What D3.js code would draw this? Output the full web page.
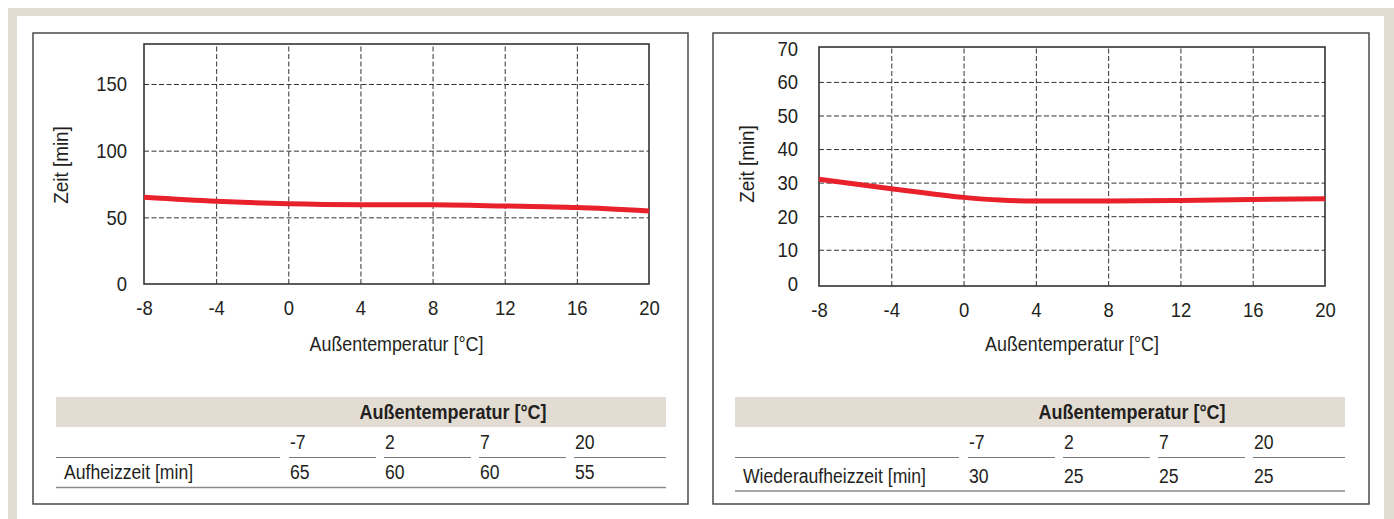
<!DOCTYPE html>
<html>
<head>
<meta charset="utf-8">
<script src="https://cdn.jsdelivr.net/npm/d3@7"></script>
<style>
  html, body { margin: 0; padding: 0; background: #fff; }
  svg { display: block; }
  text { font-family: "Liberation Sans Narrow", "Arial Narrow", "Liberation Sans", Arial, sans-serif; fill: #231f20; }
</style>
</head>
<body>
<svg id="chart" width="1394" height="519"></svg>
<script>
// ---------- data ----------
const xTicks = [-8, -4, 0, 4, 8, 12, 16, 20];
const leftYTicks = [0, 50, 100, 150];
const rightYTicks = [0, 10, 20, 30, 40, 50, 60, 70];

const leftTemps  = [-8, -4, 0, 4, 8, 12, 16, 20];
const leftValues = [65, 62, 60.2, 59.5, 59.4, 58.5, 57.3, 54.8];

const rightTemps  = [-8, -4, 0, 2, 4, 8, 12, 16, 20];
const rightValues = [31, 28.2, 25.6, 24.8, 24.5, 24.5, 24.7, 25, 25.2];

const tableTemps = ["-7", "2", "7", "20"];
const leftTableLabel = "Aufheizzeit [min]";
const leftTableValues = ["65", "60", "60", "55"];
const rightTableLabel = "Wiederaufheizzeit [min]";
const rightTableValues = ["30", "25", "25", "25"];

const xTitle = "Außentemperatur [°C]";
const yTitle = "Zeit [min]";
const tableHeader = "Außentemperatur [°C]";

// ---------- helpers ----------
// simulate a condensed face when no narrow font is installed
function condense(sel, k) {
  sel.each(function () {
    const n = this.getComputedTextLength();
    if (n > 0) {
      d3.select(this).attr("textLength", n * k).attr("lengthAdjust", "spacingAndGlyphs");
    }
  });
}

// ---------- layout ----------
const BEIGE = "#e2dcd3";
const RED = "#e8212b";
const svg = d3.select("#chart");

svg.append("rect").attr("x", 8).attr("y", 8).attr("width", 1386).attr("height", 511).attr("fill", BEIGE);
svg.append("rect").attr("x", 17).attr("y", 16).attr("width", 1367).attr("height", 503).attr("fill", "#fff");

const panels = [
  { box: {x: 33, y: 33, w: 655, h: 471}, plot: {x: 144, y: 44, w: 505, h: 240},
    yDomain: [0, 180], yTicks: leftYTicks, tickPad: 17, yTitleX: 68, yTitleY: 165,
    temps: leftTemps, values: leftValues,
    table: {x: 56, w: 610, label: leftTableLabel, values: leftTableValues, row2Base: 479, row2Line: 487.5} },
  { box: {x: 713, y: 33, w: 656, h: 471}, plot: {x: 819, y: 47, w: 506, h: 239},
    yDomain: [-0.8, 70.4], yTicks: rightYTicks, tickPad: 21, yTitleX: 754, yTitleY: 164,
    temps: rightTemps, values: rightValues,
    table: {x: 735, w: 610, label: rightTableLabel, values: rightTableValues, row2Base: 482.5, row2Line: 491} }
];

panels.forEach(p => {
  // panel box
  svg.append("rect")
    .attr("x", p.box.x).attr("y", p.box.y).attr("width", p.box.w).attr("height", p.box.h)
    .attr("fill", "#fff").attr("stroke", "#4a4a4a").attr("stroke-width", 1.5);

  const g = svg.append("g").attr("transform", `translate(${p.plot.x},${p.plot.y})`);
  const x = d3.scaleLinear().domain([-8, 20]).range([0, p.plot.w]);
  const y = d3.scaleLinear().domain(p.yDomain).range([p.plot.h, 0]);

  // grid
  const gx = g.append("g").attr("transform", `translate(0,${p.plot.h})`)
    .call(d3.axisBottom(x).tickValues(xTicks.slice(1, -1)).tickSize(-p.plot.h).tickFormat(""));
  const gy = g.append("g")
    .call(d3.axisLeft(y).tickValues(p.yTicks.filter(v => v !== 0 && y(v) > 2)).tickSize(-p.plot.w).tickFormat(""));
  [gx, gy].forEach(a => {
    a.select(".domain").remove();
    a.selectAll(".tick line").attr("stroke", "#333").attr("stroke-width", 1).attr("stroke-dasharray", "5,2.5");
  });

  // frame
  g.append("rect").attr("width", p.plot.w).attr("height", p.plot.h)
    .attr("fill", "none").attr("stroke", "#333").attr("stroke-width", 1.6);

  // axis labels
  const ax = g.append("g").attr("transform", `translate(0,${p.plot.h})`)
    .call(d3.axisBottom(x).tickValues(xTicks).tickSize(0).tickPadding(0).tickFormat(d => d < 0 ? "-" + Math.abs(d) : d));
  ax.select(".domain").remove();
  ax.attr("font-family", null);
  ax.selectAll(".tick text").attr("y", 31).attr("dy", 0).attr("font-size", 21).attr("fill", "#231f20");

  const ay = g.append("g")
    .call(d3.axisLeft(y).tickValues(p.yTicks).tickSize(0).tickPadding(p.tickPad));
  ay.select(".domain").remove();
  ay.attr("font-family", null);
  ay.selectAll(".tick text").attr("font-size", 21).attr("dy", "0.33em").attr("fill", "#231f20");
  condense(g.selectAll(".tick text"), 0.88);

  // titles
  condense(svg.append("text").attr("x", p.plot.x + p.plot.w / 2).attr("y", 351)
    .attr("text-anchor", "middle").attr("font-size", 21).text(xTitle), 0.85);
  condense(svg.append("text").attr("transform", `translate(${p.yTitleX},${p.yTitleY}) rotate(-90)`)
    .attr("text-anchor", "middle").attr("font-size", 21).text(yTitle), 0.9);

  // line
  const line = d3.line().x(d => x(d)).y((d, i) => y(p.values[i])).curve(d3.curveMonotoneX);
  g.append("path").datum(p.temps).attr("d", line)
    .attr("fill", "none").attr("stroke", RED).attr("stroke-width", 5).attr("stroke-linecap", "butt");

  // table
  const t = p.table;
  svg.append("rect").attr("x", t.x).attr("y", 397).attr("width", t.w).attr("height", 30).attr("fill", BEIGE);
  condense(svg.append("text").attr("x", t.x + 397).attr("y", 419).attr("text-anchor", "middle")
    .attr("font-size", 20).attr("font-weight", "bold").text(tableHeader), 0.9);

  const colStarts = tableTemps.map((d, i) => 233 + i * 95);
  const colEnds = tableTemps.map((d, i) => i === tableTemps.length - 1 ? t.w : 233 + i * 95 + 87);
  svg.append("line").attr("x1", t.x).attr("x2", t.x + 224).attr("y1", 457.5).attr("y2", 457.5)
    .attr("stroke", "#7a7a7a").attr("stroke-width", 1.2);
  tableTemps.forEach((d, i) => {
    svg.append("line").attr("x1", t.x + colStarts[i]).attr("x2", t.x + colEnds[i])
      .attr("y1", 457.5).attr("y2", 457.5).attr("stroke", "#7a7a7a").attr("stroke-width", 1.2);
    condense(svg.append("text").attr("x", t.x + colStarts[i] + 1).attr("y", 449).attr("font-size", 20).text(d), 0.88);
    condense(svg.append("text").attr("x", t.x + colStarts[i] + 1).attr("y", t.row2Base).attr("font-size", 20).text(t.values[i]), 0.88);
  });
  condense(svg.append("text").attr("x", t.x + 8).attr("y", t.row2Base).attr("font-size", 20).text(t.label), 0.88);
  svg.append("line").attr("x1", t.x).attr("x2", t.x + t.w).attr("y1", t.row2Line).attr("y2", t.row2Line)
    .attr("stroke", "#8a8a8a").attr("stroke-width", 1.5);
});
</script>
</body>
</html>
